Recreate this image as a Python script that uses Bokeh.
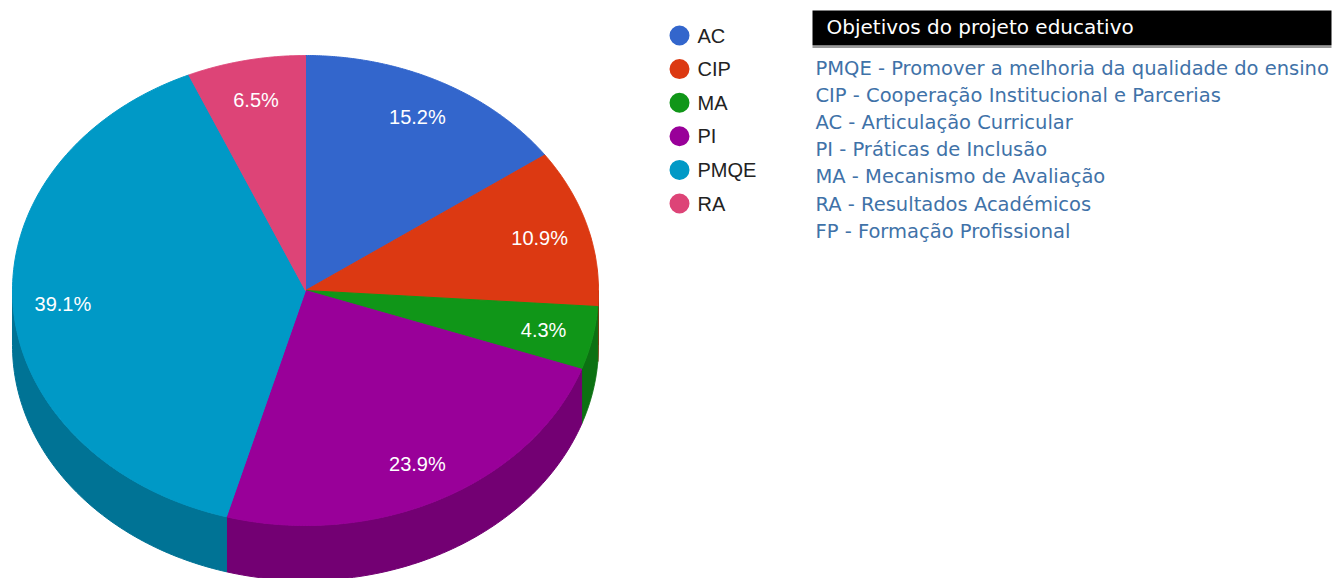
import numpy as np
from bokeh.plotting import figure
from bokeh.models import Range1d
from bokeh.embed import file_html
from bokeh.resources import INLINE
from bokeh.core.properties import value

# ---- data ----
categories = ["AC", "CIP", "MA", "PI", "PMQE", "RA"]
counts = [7, 5, 2, 11, 18, 3]
top_colors = ["#3366cc", "#dc3912", "#109618", "#990099", "#0099c6", "#dd4477"]
side_colors = ["#264c99", "#a52b0e", "#0c7112", "#730073", "#007395", "#a6335a"]
panel_title = "Objetivos do projeto educativo"
panel_items = [
    "PMQE - Promover a melhoria da qualidade do ensino",
    "CIP - Cooperação Institucional e Parcerias",
    "AC - Articulação Curricular",
    "PI - Práticas de Inclusão",
    "MA - Mecanismo de Avaliação",
    "RA - Resultados Académicos",
    "FP - Formação Profissional",
]

W, H = 1333, 578
p = figure(width=W, height=H, x_range=Range1d(0, W), y_range=Range1d(H, 0),
           output_backend="svg", toolbar_location=None, min_border=0)
p.axis.visible = False
p.grid.visible = False
p.outline_line_color = None
p.background_fill_color = "white"

# pie geometry (screen pixels, y down)
cx, cy, rx, ry, depth = 305, 290, 293, 235, 55

def pt(deg, dy=0.0):
    t = np.radians(deg)
    return cx + rx * np.sin(t), cy - ry * np.cos(t) + dy

total = float(sum(counts))
angles = np.concatenate([[0], np.cumsum(counts) / total * 360.0])

side_xs, side_ys, side_c = [], [], []
top_xs, top_ys = [], []
lab_x, lab_y, lab_t = [], [], []
for i in range(len(counts)):
    a, b = angles[i], angles[i + 1]
    lo, hi = max(a, 90.0), min(b, 270.0)
    if hi > lo:
        ts = np.linspace(lo, hi, 80)
        xt, yt = pt(ts)
        xb, yb = pt(ts[::-1], depth)
        side_xs.append(list(xt) + list(xb))
        side_ys.append(list(yt) + list(yb))
        side_c.append(side_colors[i])
    ts = np.linspace(a, b, 150)
    xa, ya = pt(ts)
    top_xs.append([cx] + list(xa))
    top_ys.append([cy] + list(ya))
    t = np.radians((a + b) / 2.0)
    f = 0.83
    lab_x.append(cx + rx * f * np.sin(t))
    lab_y.append(cy - ry * f * np.cos(t))
    lab_t.append(f"{counts[i] / total * 100:.1f}%")

p.patches(xs=side_xs, ys=side_ys, fill_color=side_c, line_color=side_c, line_width=1)
p.patches(xs=top_xs, ys=top_ys, fill_color=top_colors, line_color=top_colors, line_width=1)
p.text(x=lab_x, y=lab_y, text=lab_t, text_color="white", text_align="center",
       text_baseline="middle", text_font=value("Liberation Sans"), text_font_size="20px")

# legend
ly = [35 + i * 33.6 for i in range(len(categories))]
p.scatter(x=[679] * len(categories), y=ly, size=20, marker="circle",
          fill_color=top_colors, line_color=None)
p.text(x=[697] * len(categories), y=ly, text=categories, text_color="#222222",
       text_baseline="middle", text_font=value("Liberation Sans"), text_font_size="20px")

# right panel
p.quad(left=[812], right=[1331], top=[10], bottom=[45], fill_color="black", line_color=None)
p.segment(x0=[812], y0=[46.5], x1=[1331], y1=[46.5], line_color="#9a9a9a", line_width=2)
p.text(x=[826], y=[26], text=[panel_title], text_color="white", text_baseline="middle",
       text_font=value("DejaVu Sans"), text_font_size="20px")
iy = [68 + i * 27.1 for i in range(len(panel_items))]
p.text(x=[815] * len(panel_items), y=iy, text=panel_items, text_color="#3f72a8",
       text_baseline="middle", text_font=value("DejaVu Sans"), text_font_size="19.5px")

open("out.html", "w").write(file_html(p, INLINE))
